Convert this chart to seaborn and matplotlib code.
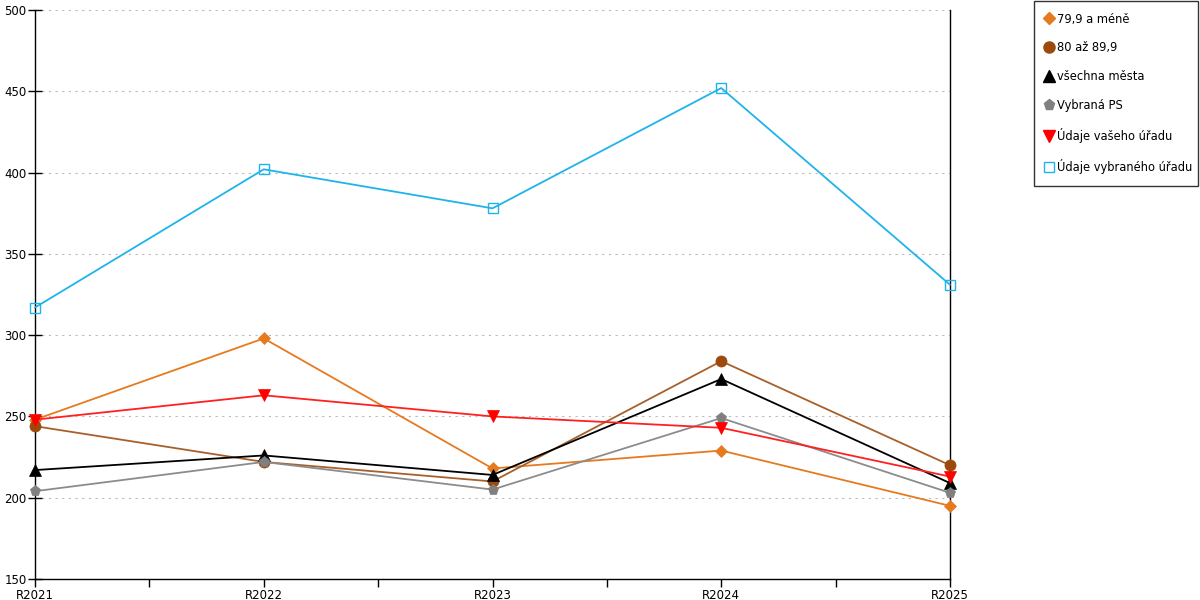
import matplotlib
matplotlib.use("Agg")
import matplotlib.pyplot as plt
import seaborn as sns
import pandas as pd
from matplotlib.lines import Line2D
from matplotlib.ticker import MultipleLocator

categories = ["R2021", "R2022", "R2023", "R2024", "R2025"]
s_79 = [248, 298, 218, 229, 195]
s_80 = [244, 222, 210, 284, 220]
s_all = [217, 226, 214, 273, 209]
s_ps = [204, 222, 205, 249, 203]
s_vas = [248, 263, 250, 243, 213]
s_vyb = [317, 402, 378, 452, 331]

names = ["79,9 a méně", "80 až 89,9", "všechna města", "Vybraná PS",
         "Údaje vašeho úřadu", "Údaje vybraného úřadu"]
series = [s_79, s_80, s_all, s_ps, s_vas, s_vyb]
colors = ["#E67A1E", "#9C4A0C", "#000000", "#808080", "#FF0000", "#1EB4EB"]
line_colors = ["#E67A1E", "#A8602A", "#000000", "#8C8C8C", "#FF2020", "#1EB4EB"]
markers = ["D", "o", "^", "p", "v", "s"]
msizes = [6, 8, 8, 8, 8, 7]

sns.set_style("white")
plt.rcParams['font.family'] = ['DejaVu Sans']
plt.rcParams['text.color'] = 'black'
plt.rcParams['xtick.color'] = 'black'
plt.rcParams['ytick.color'] = 'black'

fig = plt.figure(figsize=(12, 6), dpi=100)
ax = fig.add_axes([35/1200, 21/600, 915/1200, 569/600])

rows = []
for n, s in zip(names, series):
    for i, v in enumerate(s):
        rows.append({"series": n, "x": i, "value": v})
df = pd.DataFrame(rows)

for n, c, lc, m, ms in zip(names, colors, line_colors, markers, msizes):
    sub = df[df.series == n]
    face = "none" if m == "s" else c
    sns.lineplot(data=sub, x="x", y="value", ax=ax, color=lc, linewidth=1.3,
                 marker=m, markersize=ms, markerfacecolor=face,
                 markeredgecolor=c, markeredgewidth=1.0 if m == "s" else 0.5,
                 legend=False, zorder=3, clip_on=False)

ax.set_xlim(0, 4)
ax.set_ylim(150, 500)
ax.set_xticks(range(5))
ax.set_xticklabels(categories)
ax.xaxis.set_minor_locator(MultipleLocator(0.5))
ax.set_yticks(range(150, 501, 50))
ax.set_xlabel("")
ax.set_ylabel("")
ax.yaxis.grid(True, color="#BBBBBB", linestyle=(0, (2, 4)), linewidth=0.8)
ax.xaxis.grid(False)
ax.tick_params(axis="y", direction="inout", length=10, width=1, labelsize=8.5, pad=1, left=True)
ax.tick_params(axis="x", which="both", direction="out", length=6, width=1, labelsize=8.5, pad=1, bottom=True)
for side in ["left", "bottom", "right"]:
    ax.spines[side].set_visible(True)
    ax.spines[side].set_color("black")
    ax.spines[side].set_linewidth(1)
ax.spines["top"].set_visible(False)
ax.set_axisbelow(True)

handles = []
for n, c, m, ms in zip(names, colors, markers, msizes):
    face = "none" if m == "s" else c
    handles.append(Line2D([], [], linestyle="none", marker=m, markersize=ms,
                          markerfacecolor=face, markeredgecolor=c, label=n))
leg = fig.legend(handles=handles, loc="upper left",
                 bbox_to_anchor=(1034/1200, 1 - 186/600, 164/1200, 185/600), mode="expand",
                 frameon=True, fancybox=False, fontsize=8.3, labelspacing=1.38,
                 handlelength=0.6, handletextpad=0.4, borderpad=1.0, borderaxespad=0)
leg.get_frame().set_edgecolor("black")
leg.get_frame().set_linewidth(1)

fig.savefig("out.png", dpi=100)
